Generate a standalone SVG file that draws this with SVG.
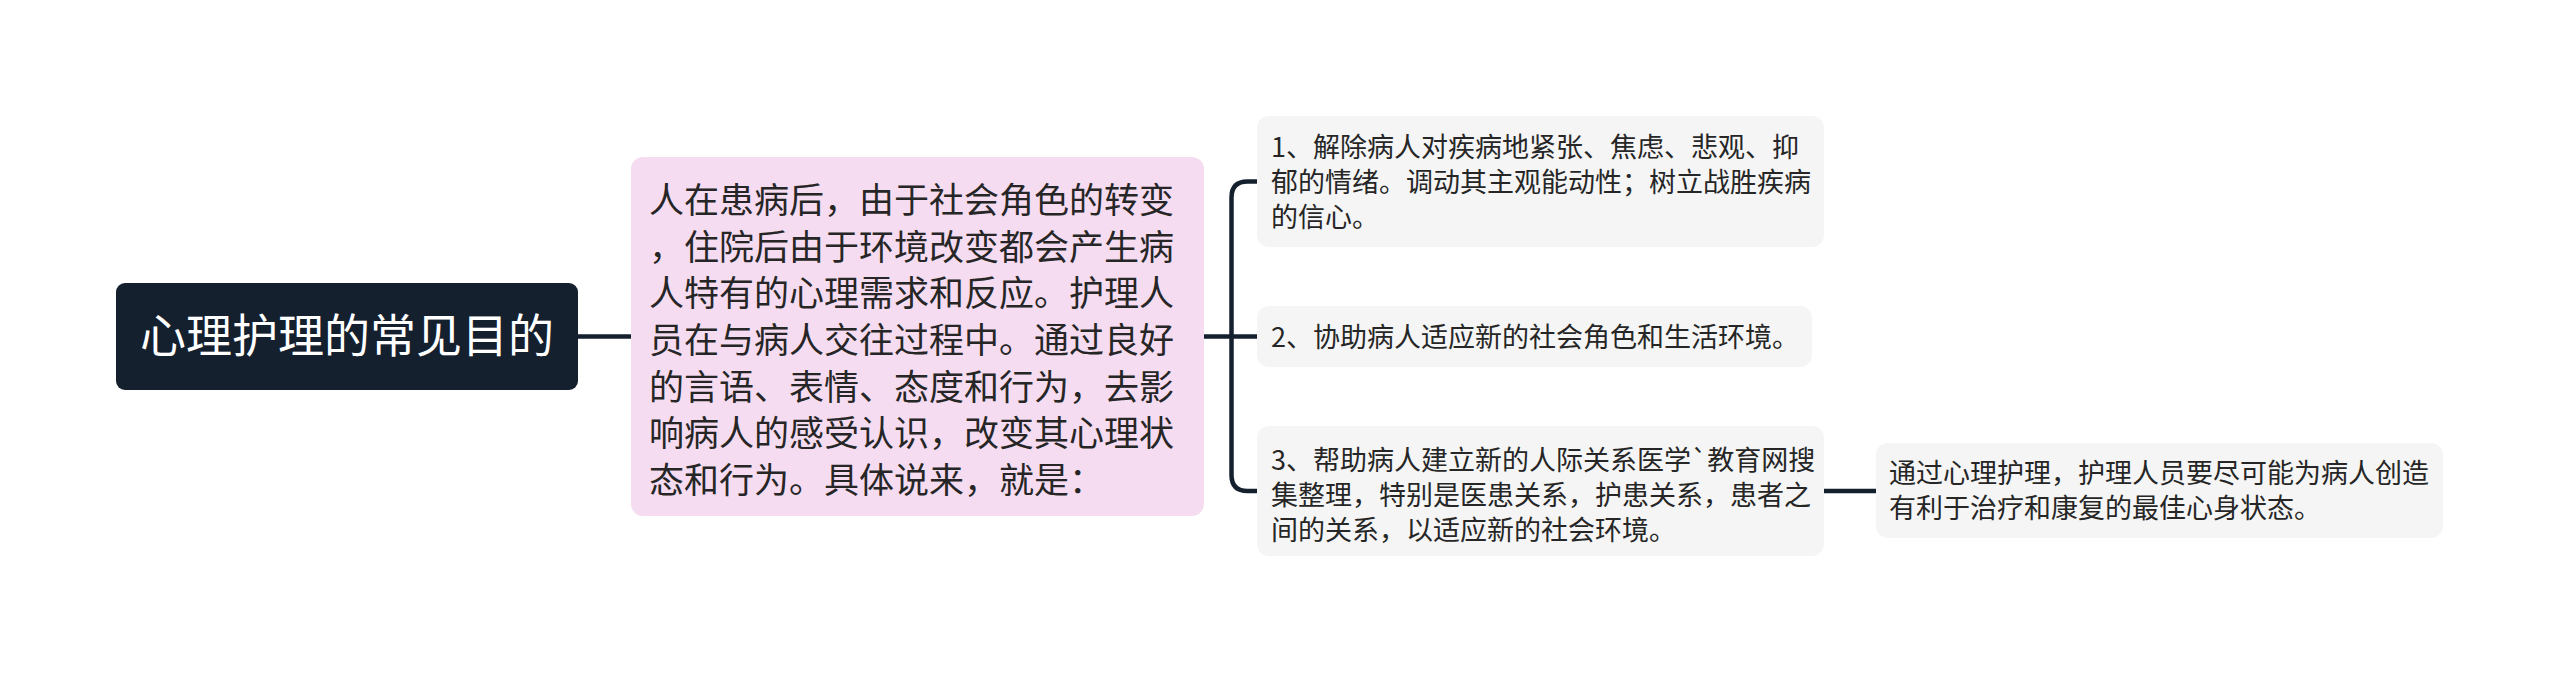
<svg xmlns="http://www.w3.org/2000/svg" width="2560" height="673" viewBox="0 0 2560 673">
<style>
text{font-family:"Noto Sans CJK SC","Noto Sans",sans-serif;}
.root{fill:#15202f;}
.rootT{fill:#ffffff;font-size:46px;}
.main{fill:#f6dcf1;}
.mainT{fill:#262626;font-size:35px;}
.sub{fill:#f5f5f5;}
.subT{fill:#262626;font-size:27px;}
.conn{fill:none;stroke:#15202f;stroke-width:4.5;stroke-linecap:butt;}
</style>
<rect width="2560" height="673" fill="#ffffff"/>
<g id="connectors">
<path class="conn" d="M578 336.5 H631"/>
<path class="conn" d="M1204 336.5 H1257"/>
<path class="conn" d="M1257 181.5 H1247.5 Q1231.5 181.5 1231.5 197.5 V475 Q1231.5 491 1247.5 491 H1257"/>
<path class="conn" d="M1824 491 H1876"/>
</g>
<g id="root">
<rect class="root" x="116" y="283" width="462" height="107" rx="9"/>
<text class="rootT" x="347" y="352" text-anchor="middle">心理护理的常见目的</text>
</g>
<g id="main">
<rect class="main" x="631" y="157" width="573" height="359" rx="12"/>
<text class="mainT">
<tspan x="649" y="213">人在患病后，由于社会角色的转变</tspan>
<tspan x="649" y="260">，住院后由于环境改变都会产生病</tspan>
<tspan x="649" y="306">人特有的心理需求和反应。护理人</tspan>
<tspan x="649" y="353">员在与病人交往过程中。通过良好</tspan>
<tspan x="649" y="400">的言语、表情、态度和行为，去影</tspan>
<tspan x="649" y="446">响病人的感受认识，改变其心理状</tspan>
<tspan x="649" y="493">态和行为。具体说来，就是：</tspan>
</text>
</g>
<g id="node1">
<rect class="sub" x="1257" y="116" width="567" height="131" rx="12"/>
<text class="subT">
<tspan x="1271" y="157">1、解除病人对疾病地紧张、焦虑、悲观、抑</tspan>
<tspan x="1271" y="192">郁的情绪。调动其主观能动性；树立战胜疾病</tspan>
<tspan x="1271" y="227">的信心。</tspan>
</text>
</g>
<g id="node2">
<rect class="sub" x="1257" y="306" width="555" height="61" rx="12"/>
<text class="subT" x="1271" y="347">2、协助病人适应新的社会角色和生活环境。</text>
</g>
<g id="node3">
<rect class="sub" x="1257" y="426" width="567" height="130" rx="12"/>
<text class="subT">
<tspan x="1271" y="470">3、帮助病人建立新的人际关系医学`教育网搜</tspan>
<tspan x="1271" y="505">集整理，特别是医患关系，护患关系，患者之</tspan>
<tspan x="1271" y="540">间的关系，以适应新的社会环境。</tspan>
</text>
</g>
<g id="node4">
<rect class="sub" x="1876" y="443" width="567" height="95" rx="12"/>
<text class="subT">
<tspan x="1889" y="483">通过心理护理，护理人员要尽可能为病人创造</tspan>
<tspan x="1889" y="518">有利于治疗和康复的最佳心身状态。</tspan>
</text>
</g>
</svg>
